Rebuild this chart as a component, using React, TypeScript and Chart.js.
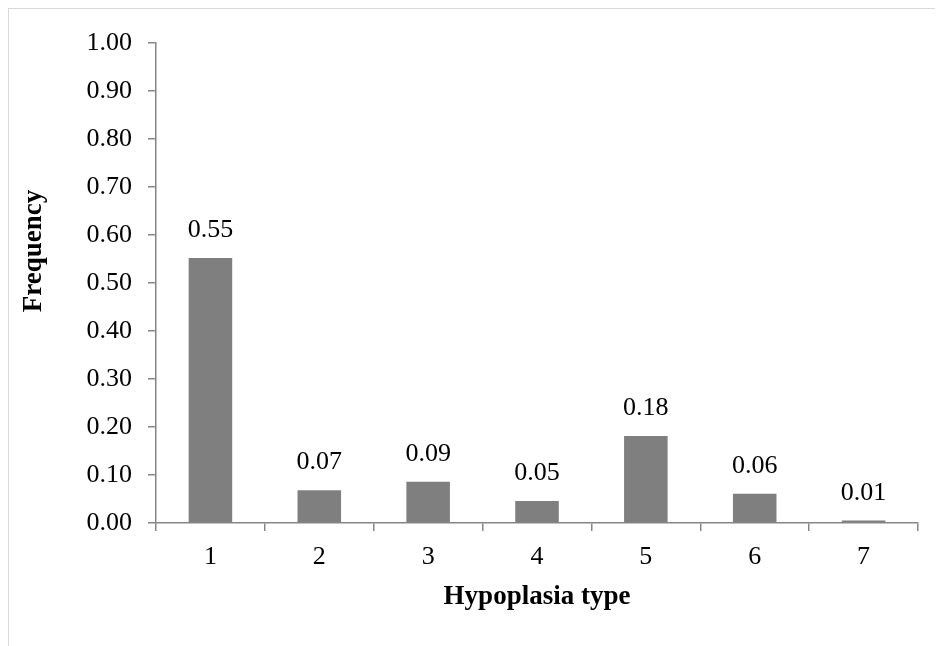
import React, { useEffect, useRef } from "react";
import { Chart, registerables } from "chart.js";

Chart.register(...registerables);

// Hypoplasia type categories and their observed frequencies
const categories: string[] = ["1", "2", "3", "4", "5", "6", "7"];
const frequencies: number[] = [0.552, 0.068, 0.086, 0.046, 0.181, 0.061, 0.005];
const yTicks: number[] = [0, 0.1, 0.2, 0.3, 0.4, 0.5, 0.6, 0.7, 0.8, 0.9, 1.0];
const yTitle = "Frequency";
const xTitle = "Hypoplasia type";

const FONT = "'Liberation Serif', 'Times New Roman', serif";
const AXIS_GREY = "#868686";

// Writes each bar's value (two decimals) above the bar
const valueLabels = {
  id: "valueLabels",
  afterDatasetsDraw(chart: any) {
    const { ctx } = chart;
    const meta = chart.getDatasetMeta(0);
    ctx.save();
    ctx.font = `26px ${FONT}`;
    ctx.fillStyle = "#000";
    ctx.textAlign = "center";
    ctx.textBaseline = "alphabetic";
    meta.data.forEach((bar: any, i: number) => {
      const v = chart.data.datasets[0].data[i] as number;
      ctx.fillText(v.toFixed(2), bar.x, bar.y - 21);
    });
    ctx.restore();
  },
};

// Vertical axis title, set a little above the middle of the axis
const sideTitle = {
  id: "sideTitle",
  afterDraw(chart: any) {
    const { ctx, chartArea } = chart;
    ctx.save();
    ctx.font = `bold 27px ${FONT}`;
    ctx.fillStyle = "#000";
    ctx.textAlign = "center";
    ctx.textBaseline = "middle";
    ctx.translate(25, chartArea.top + 208);
    ctx.rotate(-Math.PI / 2);
    ctx.fillText(yTitle, 0, 0);
    ctx.restore();
  },
};

export default function App() {
  const canvasRef = useRef<HTMLCanvasElement | null>(null);

  useEffect(() => {
    if (!canvasRef.current) return;
    const chart = new Chart(canvasRef.current, {
      type: "bar",
      data: {
        labels: categories,
        datasets: [
          {
            data: frequencies,
            backgroundColor: "#7f7f7f",
            borderWidth: 0,
            barPercentage: 0.4,
            categoryPercentage: 1,
          },
        ],
      },
      options: {
        animation: false,
        responsive: false,
        maintainAspectRatio: false,
        layout: { padding: { top: 34, right: 25, left: 0, bottom: 0 } },
        plugins: {
          legend: { display: false },
          tooltip: { enabled: false },
        },
        scales: {
          x: {
            grid: {
              offset: true,
              drawOnChartArea: false,
              drawTicks: true,
              tickLength: 8,
              color: AXIS_GREY,
              lineWidth: 1.5,
            },
            border: { display: true, color: AXIS_GREY, width: 1.5 },
            ticks: {
              color: "#000",
              font: { family: FONT, size: 26 },
              padding: 11,
              maxRotation: 0,
            },
            title: {
              display: true,
              text: xTitle,
              color: "#000",
              font: { family: FONT, size: 27, weight: "bold" },
              padding: { top: 0, bottom: 33 },
            },
            afterFit(scale: any) {
              scale.height = 123;
            },
          },
          y: {
            min: 0,
            max: 1,
            afterBuildTicks(scale: any) {
              scale.ticks = yTicks.map((v) => ({ value: v }));
            },
            grid: {
              drawOnChartArea: false,
              drawTicks: true,
              tickLength: 8,
              color: AXIS_GREY,
              lineWidth: 1.5,
            },
            border: { display: true, color: AXIS_GREY, width: 1.5 },
            ticks: {
              color: "#000",
              font: { family: FONT, size: 26 },
              padding: 16,
              callback: (v: any) => Number(v).toFixed(2),
            },
            afterFit(scale: any) {
              scale.width = 147;
            },
          },
        },
      },
      plugins: [valueLabels, sideTitle],
    });
    return () => chart.destroy();
  }, []);

  return (
    <div
      style={{
        width: 935,
        height: 638,
        borderTop: "1px solid #d9d9d9",
        borderLeft: "1px solid #d9d9d9",
        boxSizing: "border-box",
        overflow: "hidden",
      }}
    >
      <canvas ref={canvasRef} width={934} height={637} style={{ display: "block" }} />
    </div>
  );
}
